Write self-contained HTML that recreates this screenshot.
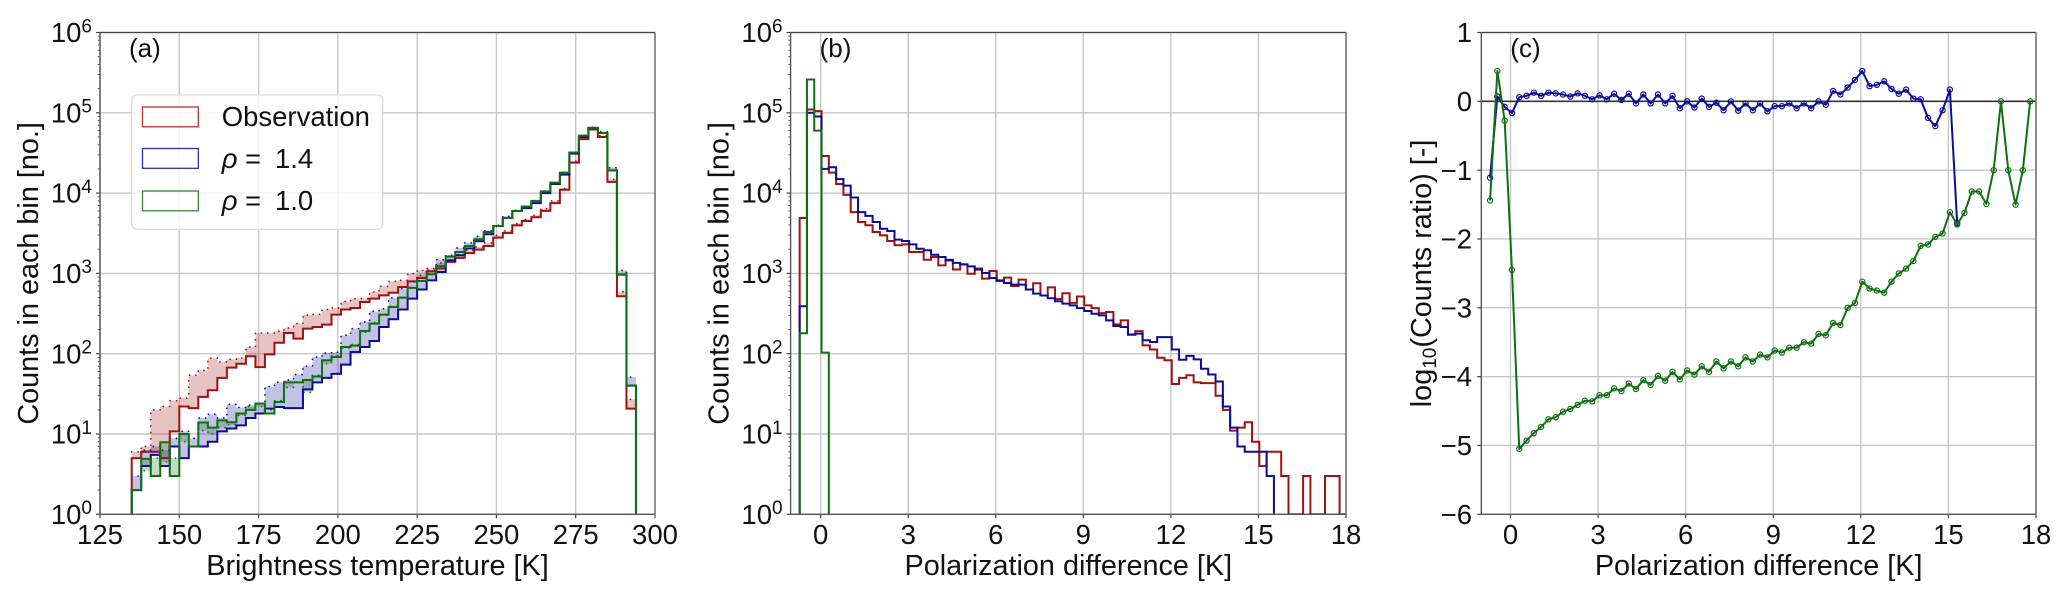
<!DOCTYPE html>
<html>
<head>
<meta charset="utf-8">
<title>Brightness temperature and polarization difference histograms</title>
<style>
html,body{margin:0;padding:0;background:#fff;}
svg{display:block;}
text{font-family:"Liberation Sans",Arial,sans-serif;fill:#111;}
</style>
</head>
<body>
<svg id="fig" xmlns="http://www.w3.org/2000/svg" width="2067" height="598" viewBox="0 0 2067 598"></svg>
<script>
// Panel (a): brightness temperature histogram
const aBinStart = 135;
const aBinWidth = 3;
const aObs = [5,6,6,5,10.8,22,21,29,35,50,67,75,93,68,98,137,181,154,205,215,230,307,355,371,440,485,533,575,676,795,875,1060,1150,1390,1560,1790,1980,2190,2790,3180,3970,4500,5000,6000,7500,11000,24000,47000,62000,50000,13800,519,20.7];
const aObsUpper = [6,7,20,22,26,28,54,62,88,79,85,88,121,181,181,190,209,237,303,309,355,372,447,485,485,587,692,795,820,993,1090,1150,1350,1480,1710,1940,2130,2400,2980,3380,4170,4700,5300,6400,8000,11500,25000,49000,64000,52000,14800,590,27];
const aRho14 = [2,4,5.5,4,7,5,7,7,8,10.8,11.7,12.8,15.8,18,20.7,21.7,21,21,36,44,50,56,73,105,121,144,215,269,355,485,631,820,1040,1455,1680,2040,2510,3070,3890,4900,5980,6500,7500,10000,13000,17000,31000,50000,65000,56000,19200,967,40];
const aRho14Upper = [3,6.3,7,6.3,8.8,10.8,8.8,15.8,17.6,15.8,23.4,21.4,22.8,24,39,44,47,55,70,91,102,104,170,205,248,337,363,495,646,782,946,1095,1480,1680,2075,2400,2890,3380,3970,5130,6100,6700,7800,10300,13300,17500,32000,52000,66000,58000,20700,1090,51];
const aRho10 = [2,4.9,3,7.9,3,10,7,13.9,12,14.8,14,18,20,24,18,25,44,44,47,52,83,91,121,126,192,237,307,381,500,660,805,977,1230,1620,1850,2190,2660,3280,3890,4900,5980,6800,8000,10500,13500,18000,32000,52000,65000,56000,19200,967,40];
const aRho10Upper = [2,3.5,5,4.5,5,8,7,11,10,12,13,17,22,22,20,26,38,44,33,54,75,95,118,130,185,245,300,390,490,670,800,990,1220,1640,1840,2220,2640,3320,3870,4950,5950,6850,7950,10600,13400,18200,31800,52500,65000,56500,19100,975,40];
const aXTicks = [125,150,175,200,225,250,275,300];

// Panel (b): polarization difference histogram
const bBinStart = -0.72;
const bBinWidth = 0.25;
const bObs = [4900,110000,105000,29000,18000,13000,9500,5800,4370,3980,3280,2980,2530,2240,2300,1850,1850,1480,1600,1260,1480,1120,1300,990,1150,860,1070,805,885,697,836,630,755,530,670,480,565,430,515,400,370,320,330,232,260,174,191,127,113,89,83,42,50,54,44,43,43,30,20,11,12,14,8,4,6,6,3,1,1,3,1,1,3,3,1];
const bRho14 = [390,100000,90000,20000,21000,15000,12400,8800,5800,5200,4370,3600,3370,2630,2530,2300,2030,1940,1710,1600,1455,1350,1290,1225,1115,1012,877,820,760,725,725,630,560,530,490,450,420,400,370,340,315,300,260,221,215,172,178,147,140,161,161,113,84,94,85,65,55,45,22,12,7,6,6,6,3];
const bRho10 = [180,260000,60000,103];
const bXTicks = [0,3,6,9,12,15,18];
const logYTicks = [0,1,2,3,4,5,6];

// Panel (c): log10 counts ratio
const cStart = -0.7;
const cStep = 0.25;
const cRho14 = [-1.11,.07,-.08,-.17,.06,.08,.126,.08,.126,.116,.1,.07,.116,.08,.03,.087,.03,.11,.02,.11,-.03,.1,-.03,.1,-.03,.08,-.1,0,-.09,.04,-.08,-.02,-.13,0,-.135,-.03,-.13,-.03,-.145,-.07,-.07,-.03,-.1,-.03,-.1,0,-.05,.15,.1,.2,.31,.44,.22,.24,.29,.18,.11,.17,.04,.03,-.24,-.36,-.13,.17,-1.77];
const cRho10 = [-1.44,.44,-.28,-2.45,-5.05,-4.93,-4.82,-4.73,-4.62,-4.59,-4.51,-4.47,-4.41,-4.35,-4.36,-4.27,-4.27,-4.17,-4.21,-4.10,-4.18,-4.05,-4.12,-3.99,-4.06,-3.93,-4.04,-3.91,-3.97,-3.85,-3.93,-3.78,-3.88,-3.78,-3.85,-3.72,-3.78,-3.68,-3.72,-3.62,-3.65,-3.58,-3.58,-3.5,-3.52,-3.38,-3.4,-3.22,-3.25,-3.0,-2.93,-2.62,-2.72,-2.75,-2.78,-2.62,-2.5,-2.43,-2.32,-2.1,-2.08,-1.97,-1.92,-1.61,-1.79,-1.62,-1.31,-1.31,-1.49,-1,0,-1,-1.5,-1,0];
const cYTicks = [1,0,-1,-2,-3,-4,-5,-6];

const RED = '#a01212', BLUE = '#0c0c96', GREEN = '#0f6f12';
const NS = 'http://www.w3.org/2000/svg';
const fig = document.getElementById('fig');
const TOP = 32.5, BOTTOM = 514.3, FS = 27.5, LABEL_FS = 28.8, SUP_FS = 19;

function el(tag, name, attrs, parent) {
  const e = document.createElementNS(NS, tag);
  
  
  for (const k in attrs) e.setAttribute(k, attrs[k]);
  (parent || fig).appendChild(e);
  return e;
}
function txt(name, str, x, y, anchor, parent, size) {
  const t = el('text', name, {x: x, y: y, 'text-anchor': anchor, 'font-size': size || FS}, parent);
  t.textContent = str;
  return t;
}
function span(parent, str, attrs) {
  const s = document.createElementNS(NS, 'tspan');
  for (const k in attrs) s.setAttribute(k, attrs[k]);
  s.textContent = str;
  parent.appendChild(s);
}

function makeLinear(d0, d1, r0, r1) {
  return v => r0 + (v - d0) * (r1 - r0) / (d1 - d0);
}
const yLog = v => BOTTOM - Math.log10(v) * (BOTTOM - TOP) / 6;
const yRatio = makeLinear(-6, 1, BOTTOM, TOP);

function frame(id, left, right, xs, xTicks, yPos, yTicks) {
  const g = el('g', 'panel-' + id, {});
  const plot = el('g', 'panel-' + id + '-grid', {}, g);
  xTicks.forEach(t => {
    el('line', 'x-gridline', {x1: xs(t), x2: xs(t), y1: TOP, y2: BOTTOM, stroke: '#c6c6c6', 'stroke-width': 1.4}, plot);
  });
  yTicks.forEach(t => {
    el('line', 'y-gridline', {x1: left, x2: right, y1: yPos(t), y2: yPos(t), stroke: '#c6c6c6', 'stroke-width': 1.4}, plot);
  });
  const cp = el('clipPath', 'clip-' + id, {id: 'clip-' + id}, g);
  el('rect', 'clip-rect', {x: left, y: TOP, width: right - left, height: BOTTOM - TOP}, cp);
  const marks = el('g', 'panel-' + id + '-marks', {'clip-path': 'url(#clip-' + id + ')'}, g);
  return {g: g, marks: marks};
}

function finish(g, id, left, right, xs, xTicks, xLabelText, panelLabel) {
  xTicks.forEach(t => {
    el('line', 'x-tick', {x1: xs(t), x2: xs(t), y1: BOTTOM, y2: BOTTOM + 4, stroke: '#444', 'stroke-width': 1.2}, g);
    txt('x-tick-label', String(t), xs(t), 544, 'middle', g);
  });
  el('line', 'top-spine', {x1: left, x2: right, y1: TOP, y2: TOP, stroke: '#444', 'stroke-width': 1.3}, g);
  el('line', 'bottom-spine', {x1: left, x2: right, y1: BOTTOM, y2: BOTTOM, stroke: '#555', 'stroke-width': 1.3}, g);
  el('line', 'left-spine', {x1: left, x2: left, y1: TOP, y2: BOTTOM, stroke: '#555', 'stroke-width': 1.4}, g);
  el('line', 'right-spine', {x1: right, x2: right, y1: TOP, y2: BOTTOM, stroke: '#777', 'stroke-width': 1.6}, g);
  txt('x-axis-title', xLabelText, (left + right) / 2, 575, 'middle', g, LABEL_FS);
  txt('panel-label', panelLabel, left + 29, 57, 'start', g, 26);
}

function logAxis(g, left) {
  logYTicks.forEach(p => {
    const y = yLog(Math.pow(10, p));
    el('line', 'y-tick', {x1: left - 4, x2: left, y1: y, y2: y, stroke: '#444', 'stroke-width': 1.2}, g);
    const t = el('text', 'y-tick-label', {x: left - 8, y: y + 9.6, 'text-anchor': 'end', 'font-size': FS}, g);
    span(t, '10', {});
    span(t, String(p), {dy: -9.8, 'font-size': SUP_FS});
    if (p < 6) {
      for (let m = 2; m < 10; m++) {
        const ym = yLog(m * Math.pow(10, p));
        el('line', 'y-minor-tick', {x1: left - 2.2, x2: left, y1: ym, y2: ym, stroke: '#555', 'stroke-width': 1}, g);
      }
    }
  });
  const lx = left - 62, ly = (TOP + BOTTOM) / 2;
  const t = txt('y-axis-title', 'Counts in each bin [no.]', lx, ly, 'middle', g, LABEL_FS);
  t.setAttribute('transform', 'rotate(-90 ' + lx + ' ' + ly + ')');
}

function stepPoints(values, start, width, xs, ys) {
  const pts = [];
  values.forEach((v, i) => {
    pts.push([xs(start + i * width), ys(v)]);
    pts.push([xs(start + (i + 1) * width), ys(v)]);
  });
  return pts;
}
function toD(pts) {
  return pts.map((p, i) => (i ? 'L' : 'M') + p[0].toFixed(2) + ' ' + p[1].toFixed(2)).join('');
}
function stepLine(name, parent, values, start, width, xs, ys, color) {
  const pts = stepPoints(values, start, width, xs, ys);
  pts.unshift([pts[0][0], BOTTOM + 5]);
  pts.push([pts[pts.length - 1][0], BOTTOM + 5]);
  el('path', name, {d: toD(pts), fill: 'none', stroke: color, 'stroke-width': 2, 'stroke-linejoin': 'miter'}, parent);
}
function band(name, parent, lower, upper, start, width, xs, ys, color) {
  const a = stepPoints(lower, start, width, xs, ys);
  const b = stepPoints(upper, start, width, xs, ys).reverse();
  el('path', name + '-band', {d: toD(a.concat(b)) + 'Z', fill: color, 'fill-opacity': 0.25, stroke: 'none'}, parent);
  el('path', name + '-upper-dotted', {d: toD(stepPoints(upper, start, width, xs, ys)), fill: 'none', stroke: color, 'stroke-width': 1.8, 'stroke-linecap': 'round', 'stroke-dasharray': '0 6.4'}, parent);
}

// ---- Panel A ----
const xa = makeLinear(125, 300, 100, 655);
const pa = frame('a', 100, 655, xa, aXTicks, p => yLog(Math.pow(10, p)), logYTicks);
band('observation', pa.marks, aObs, aObsUpper, aBinStart, aBinWidth, xa, yLog, RED);
band('rho-1-4', pa.marks, aRho14, aRho14Upper, aBinStart, aBinWidth, xa, yLog, BLUE);
band('rho-1-0', pa.marks, aRho10, aRho10Upper, aBinStart, aBinWidth, xa, yLog, GREEN);
stepLine('observation-step-line', pa.marks, aObs, aBinStart, aBinWidth, xa, yLog, RED);
stepLine('rho-1-4-step-line', pa.marks, aRho14, aBinStart, aBinWidth, xa, yLog, BLUE);
stepLine('rho-1-0-step-line', pa.marks, aRho10, aBinStart, aBinWidth, xa, yLog, GREEN);
logAxis(pa.g, 100);
finish(pa.g, 'a', 100, 655, xa, aXTicks, 'Brightness temperature [K]', '(a)');

// Legend
const lg = el('g', 'legend', {}, pa.g);
el('rect', 'legend-frame', {x: 131.7, y: 95, width: 251, height: 134.3, rx: 5, fill: '#fff', 'fill-opacity': 0.8, stroke: '#dcdcdc', 'stroke-width': 1.3}, lg);
el('rect', 'legend-swatch-observation', {x: 142.5, y: 107, width: 55.8, height: 19.8, fill: '#fff', 'fill-opacity': 0.3, stroke: RED, 'stroke-opacity': 0.85, 'stroke-width': 1.3}, lg);
el('rect', 'legend-swatch-rho-1-4', {x: 142.5, y: 148.5, width: 55.8, height: 19.8, fill: '#fff', 'fill-opacity': 0.3, stroke: BLUE, 'stroke-opacity': 0.85, 'stroke-width': 1.3}, lg);
el('rect', 'legend-swatch-rho-1-0', {x: 142.5, y: 191, width: 55.8, height: 19.8, fill: '#fff', 'fill-opacity': 0.3, stroke: GREEN, 'stroke-opacity': 0.85, 'stroke-width': 1.3}, lg);
txt('legend-label-observation', 'Observation', 221.7, 126, 'start', lg);
[['rho-1-4', '1.4', 168], ['rho-1-0', '1.0', 210]].forEach(r => {
  const t = el('text', 'legend-label-' + r[0], {y: r[2], 'font-size': FS}, lg);
  span(t, 'ρ', {x: 221.7, 'font-style': 'italic'});
  span(t, '=', {x: 245});
  span(t, r[1], {x: 275});
});

// ---- Panel B ----
const xb = makeLinear(-1.03, 18, 790.6, 1346);
const pb = frame('b', 790.6, 1346, xb, bXTicks, p => yLog(Math.pow(10, p)), logYTicks);
stepLine('observation-step-line', pb.marks, bObs, bBinStart, bBinWidth, xb, yLog, RED);
stepLine('rho-1-4-step-line', pb.marks, bRho14, bBinStart, bBinWidth, xb, yLog, BLUE);
stepLine('rho-1-0-step-line', pb.marks, bRho10, bBinStart, bBinWidth, xb, yLog, GREEN);
logAxis(pb.g, 790.6);
finish(pb.g, 'b', 790.6, 1346, xb, bXTicks, 'Polarization difference [K]', '(b)');

// ---- Panel C ----
const xc = makeLinear(-1, 18, 1481.3, 2036);
const pc = frame('c', 1481.3, 2036, xc, bXTicks, yRatio, cYTicks);
el('line', 'zero-reference-line', {x1: 1481.3, x2: 2036, y1: yRatio(0), y2: yRatio(0), stroke: '#333', 'stroke-width': 1.6}, pc.marks);
function ratioSeries(name, values, color) {
  const pts = values.map((v, i) => [xc(cStart + i * cStep), yRatio(v)]);
  el('path', name + '-ratio-line', {d: toD(pts), fill: 'none', stroke: color, 'stroke-width': 2, 'stroke-linejoin': 'round'}, pc.marks);
  pts.forEach(p => {
    el('circle', name + '-ratio-point', {cx: p[0], cy: p[1], r: 2.6, fill: 'none', stroke: color, 'stroke-width': 1.2}, pc.marks);
  });
}
ratioSeries('rho-1-4', cRho14, BLUE);
ratioSeries('rho-1-0', cRho10, GREEN);
cYTicks.forEach(t => {
  const y = yRatio(t);
  el('line', 'y-tick', {x1: 1477.3, x2: 1481.3, y1: y, y2: y, stroke: '#444', 'stroke-width': 1.2}, pc.g);
  txt('y-tick-label', t < 0 ? '\u2212' + Math.abs(t) : String(t), 1472, y + 9.6, 'end', pc.g);
});
(function () {
  const lx = 1431, ly = (TOP + BOTTOM) / 2;
  const t = el('text', 'y-axis-title', {x: lx, y: ly, 'text-anchor': 'middle', 'font-size': LABEL_FS, transform: 'rotate(-90 ' + lx + ' ' + ly + ')'}, pc.g);
  span(t, 'log', {});
  span(t, '10', {dy: 5, 'font-size': SUP_FS});
  span(t, '(Counts ratio) [-]', {dy: -5});
})();
finish(pc.g, 'c', 1481.3, 2036, xc, bXTicks, 'Polarization difference [K]', '(c)');
</script>
</body>
</html>
